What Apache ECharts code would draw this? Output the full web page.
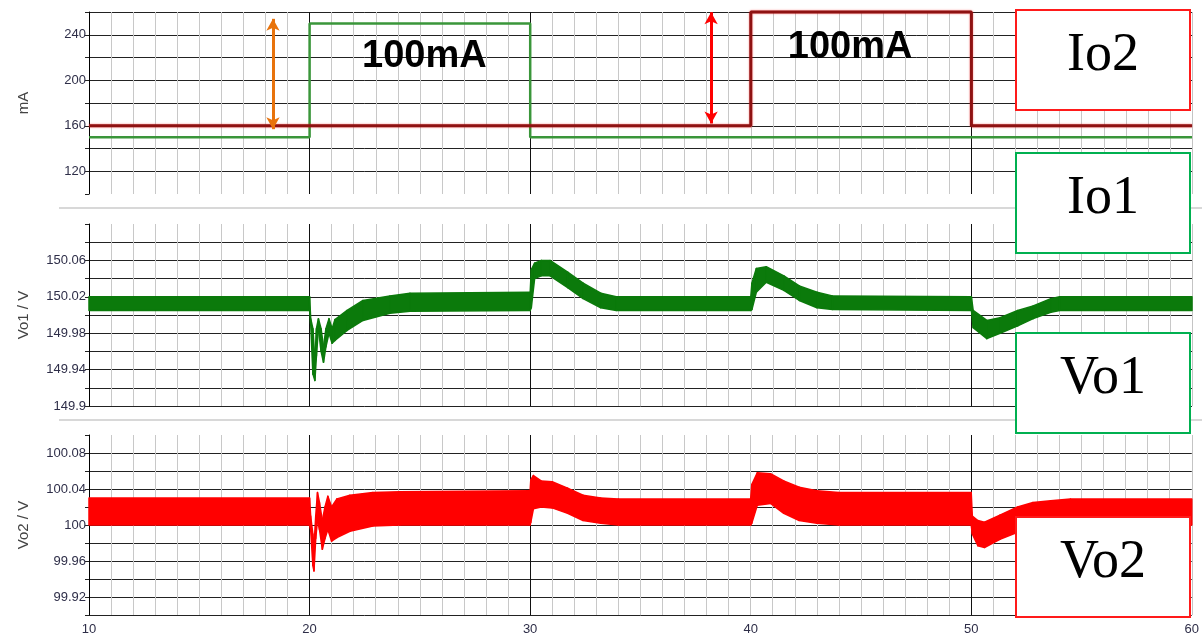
<!DOCTYPE html>
<html><head><meta charset="utf-8">
<script src="https://cdn.jsdelivr.net/npm/echarts@6/dist/echarts.min.js"></script>
<style>html,body{margin:0;padding:0;background:#fff}#c{width:1202px;height:636px}</style>
</head><body><div id="c"></div>
<script>
// ---- data ----
const timeTickLabels = ['10','20','30','40','50','60'];
const currentTickLabels = ['120','160','200','240'];
const vo1TickLabels = ['149.9','149.94','149.98','150.02','150.06'];
const vo2TickLabels = ['99.92','99.96','100','100.04','100.08'];
const panelNames = ['mA','Vo1 / V','Vo2 / V'];

const io1Time = [10,20,20,30,30,60];
const io1Values = [150,150,250,250,150,150];
const io2Time = [10,40,40,50,50,60];
const io2Values = [160,160,260,260,160,160];

const vo1Time = [10,20,20.05,20.15,20.24,20.31,20.40,20.52,20.63,20.74,20.88,21.02,21.15,21.7,22.42,23.64,24.55,30,30.05,30.2,30.5,30.9,31.7,32.4,33.2,33.9,40,40.05,40.25,40.7,41.5,42.2,43.0,43.7,50,50.08,50.7,51.3,52.1,52.8,53.6,54.0,60];
const vo1Upper = [150.020,150.020,149.996,149.985,149.950,149.985,149.996,149.985,149.965,149.985,149.996,149.985,149.995,150.005,150.016,150.021,150.024,150.025,150.050,150.057,150.060,150.060,150.047,150.035,150.024,150.020,150.020,150.035,150.051,150.053,150.043,150.032,150.025,150.021,150.020,150.005,149.994,149.997,150.005,150.010,150.018,150.020,150.020];
const vo1Lower = [150.005,150.005,149.990,149.935,149.928,149.955,149.985,149.960,149.948,149.965,149.980,149.969,149.972,149.983,149.994,150.002,150.004,150.005,150.008,150.040,150.043,150.043,150.030,150.018,150.008,150.005,150.005,150.006,150.025,150.036,150.027,150.016,150.008,150.006,150.005,149.986,149.974,149.980,149.988,149.996,150.003,150.005,150.005];

const vo2Time = [10,20,20.05,20.15,20.2,20.28,20.36,20.45,20.58,20.7,20.83,21.0,21.24,21.83,22.87,24.1,30,30.03,30.15,30.5,31.0,31.7,32.4,33.2,34,40,40.05,40.3,40.9,41.5,42.2,43.0,44,50,50.05,50.3,50.6,51.3,52.1,52.8,53.6,54.5,60];
const vo2Upper = [100.030,100.030,100.010,99.990,99.975,100.010,100.036,100.025,100.005,100.020,100.032,100.020,100.029,100.033,100.036,100.037,100.038,100.050,100.055,100.049,100.048,100.041,100.033,100.030,100.029,100.029,100.045,100.058,100.057,100.049,100.042,100.038,100.036,100.036,100.010,100.005,100.003,100.011,100.020,100.025,100.027,100.029,100.029];
const vo2Lower = [100.000,100.000,99.995,99.955,99.949,99.985,100.005,99.995,99.973,99.985,99.995,99.982,99.986,99.993,99.999,100.000,100.000,100.003,100.018,100.020,100.019,100.013,100.005,100.002,100.000,100.000,100.002,100.022,100.024,100.013,100.005,100.002,100.000,100.000,99.990,99.977,99.975,99.984,99.992,99.997,100.000,100.000,100.000];

const stepLabel = '100mA';
const stepLabelTimes = [25.2, 44.5];
const stepLabelLevels = [220.5, 229];
const arrowTimes = [18.34, 38.2];
const arrowFrom = [157, 162];
const arrowTo = [254, 259.8];
const tagNames = ['Io2','Io1','Vo1','Vo2'];

// ---- helpers ----
const pairs = (xs, ys) => xs.map((x, i) => [x, ys[i]]);
const labelFrom = list => v => list.find(l => Math.abs(parseFloat(l) - v) < 1e-6) || '';
const FONT = 'Liberation Sans, Arial, sans-serif';
const tickColor = '#2e2e48';

const grids = [
  {left: 89, right: 10, top: 12, height: 182},
  {left: 89, right: 10, top: 224, height: 182},
  {left: 89, right: 10, top: 435, height: 181}
];

function makeX(i, showLabel) {
  return {
    type: 'value', gridIndex: i, min: 10, max: 60, interval: 10,
    axisLine: {show: false}, axisTick: {show: false},
    axisLabel: {show: showLabel, margin: 8, fontSize: 13, color: tickColor, fontFamily: FONT,
      formatter: v => timeTickLabels.find(l => +l === v) || ''},
    splitLine: {show: true, lineStyle: {width: 1, color: ['#111','#111','#111','#c4c4c4','#111','#c4c4c4']}},
    minorTick: {show: false, splitNumber: 10},
    minorSplitLine: {show: true, lineStyle: {color: '#c8c8c8', width: 1}}
  };
}
function makeY(i, min, max, interval, labels, name, minLine, maxLine) {
  return {
    type: 'value', gridIndex: i, min, max, interval,
    name, nameLocation: 'middle', nameGap: 58, nameRotate: 90,
    nameTextStyle: {fontSize: 15, color: '#444', fontFamily: FONT},
    axisLine: {show: true, lineStyle: {color: '#000', width: 1}},
    axisTick: {show: true, length: 4, lineStyle: {color: '#222'}},
    axisLabel: {margin: 3, fontSize: 13, color: tickColor, fontFamily: FONT, formatter: labelFrom(labels),
      showMinLabel: true, showMaxLabel: true},
    splitLine: {show: true, showMinLine: minLine, showMaxLine: maxLine, lineStyle: {color: '#222', width: 1}}
  };
}

const arrowSpec = (t, a, b, color) => ({
  symbol: ['arrow', 'arrow'], symbolSize: [10, 12], silent: true,
  label: {show: false},
  lineStyle: {color, width: 3, type: 'solid'},
  emphasis: {disabled: true},
  data: [[{coord: [t, a]}, {coord: [t, b]}]]
});

// ripple band between an upper and a lower envelope, drawn through the axes' scales
function bandSeries(name, xi, yi, time, upper, lower, color) {
  return {
    name, type: 'custom', xAxisIndex: xi, yAxisIndex: yi, z: 3, silent: true,
    data: time.map((t, i) => [t, upper[i], lower[i]]),
    encode: {x: 0, y: [1, 2]},
    renderItem: (params, api) => {
      const i = params.dataIndexInside;
      if (i >= params.dataInsideLength - 1) return {type: 'group', children: []};
      const p1 = api.coord([api.value(0, i), api.value(1, i)]);
      const p2 = api.coord([api.value(0, i + 1), api.value(1, i + 1)]);
      const p3 = api.coord([api.value(0, i + 1), api.value(2, i + 1)]);
      const p4 = api.coord([api.value(0, i), api.value(2, i)]);
      return {type: 'polygon', shape: {points: [p1, p2, p3, p4]},
        style: {fill: color, stroke: color, lineWidth: 1.5, lineJoin: 'round'}};
    }
  };
}

const chart = echarts.init(document.getElementById('c'), null, {renderer: 'canvas'});

const boxTops = [10, 153, 333, 517];
const boxColors = ['#ff1a1a', '#00b050', '#00b050', '#ff1a1a'];
const graphics = [
  {type: 'line', z: 1, shape: {x1: 59, y1: 208, x2: 1202, y2: 208}, style: {stroke: '#d8d8d8', lineWidth: 2}},
  {type: 'line', z: 1, shape: {x1: 59, y1: 420, x2: 1202, y2: 420}, style: {stroke: '#d8d8d8', lineWidth: 2}}
];
tagNames.forEach((name, i) => {
  graphics.push({type: 'rect', z: 100, shape: {x: 1016, y: boxTops[i], width: 174, height: 100},
    style: {fill: '#fff', stroke: boxColors[i], lineWidth: 2}});
  graphics.push({type: 'text', z: 101, x: 1103, y: boxTops[i] + 46,
    style: {text: name, fill: '#000', font: '54px "Liberation Serif", "Times New Roman", serif', align: 'center', verticalAlign: 'middle'}});
});

chart.setOption({
  animation: false,
  backgroundColor: '#fff',
  grid: grids,
  xAxis: [makeX(0, false), makeX(1, false), makeX(2, true)],
  yAxis: [
    makeY(0, 100, 260, 20, currentTickLabels, panelNames[0], false, true),
    makeY(1, 149.9, 150.1, 0.02, vo1TickLabels, panelNames[1], true, false),
    makeY(2, 99.9, 100.1, 0.02, vo2TickLabels, panelNames[2], true, false)
  ],
  graphic: graphics,
  series: [
    {
      name: 'Io1', type: 'line', xAxisIndex: 0, yAxisIndex: 0, data: pairs(io1Time, io1Values),
      showSymbol: false, clip: false, z: 3,
      lineStyle: {color: '#3a963a', width: 2.5},
      markLine: arrowSpec(arrowTimes[0], arrowFrom[0], arrowTo[0], '#e8730c'),
      markPoint: {
        symbol: 'circle', symbolSize: 1, itemStyle: {color: 'rgba(0,0,0,0)'}, silent: true,
        label: {show: true, position: 'inside', formatter: stepLabel, fontSize: 38, fontWeight: 'bold', color: '#000', fontFamily: FONT},
        data: stepLabelTimes.map((t, i) => ({coord: [t, stepLabelLevels[i]]}))
      }
    },
    {
      name: 'Io2', type: 'line', xAxisIndex: 0, yAxisIndex: 0, data: pairs(io2Time, io2Values),
      showSymbol: false, clip: false, z: 4,
      lineStyle: {color: '#8e1212', width: 3, shadowColor: 'rgba(255,0,0,0.55)', shadowBlur: 2},
      markLine: arrowSpec(arrowTimes[1], arrowFrom[1], arrowTo[1], '#ff0000')
    },
    bandSeries('Vo1', 1, 1, vo1Time, vo1Upper, vo1Lower, '#0b7a0b'),
    bandSeries('Vo2', 2, 2, vo2Time, vo2Upper, vo2Lower, '#ff0000')
  ]
});
</script>
</body></html>
